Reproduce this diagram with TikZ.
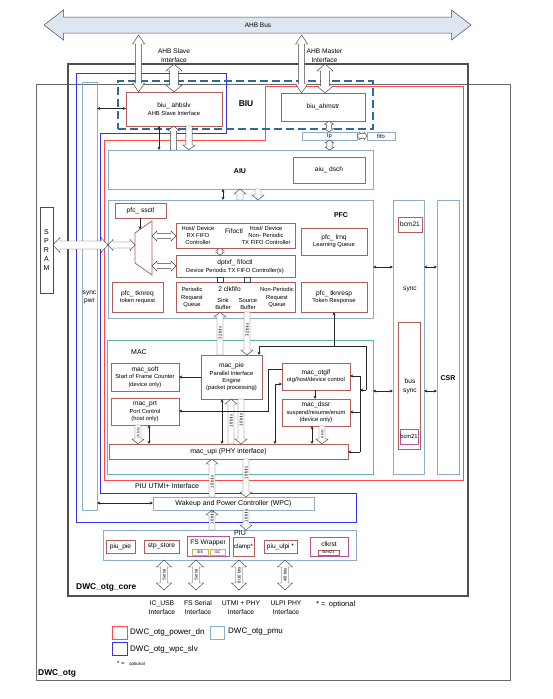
\documentclass[tikz,border=0pt]{standalone}
\usepackage{fontspec}
\setmainfont{Liberation Sans}
\usetikzlibrary{calc,arrows.meta}
\definecolor{modred}{HTML}{B35C5C}
\definecolor{pwrred}{HTML}{FF4A4A}
\definecolor{pmublue}{HTML}{8DADC9}
\definecolor{wpcblue}{HTML}{3333EE}
\definecolor{macteal}{HTML}{5DB5B0}
\definecolor{biudash}{HTML}{2F6B98}
\definecolor{purp}{HTML}{B0559E}
\definecolor{olivec}{HTML}{C2B83A}
\definecolor{busfill}{HTML}{DDE7F1}
\definecolor{coregray}{HTML}{505050}
\definecolor{otggray}{HTML}{6A6A6A}
\newcommand\fA{\fontsize{5.8}{7.4}\selectfont}
\newcommand\fB{\fontsize{6.6}{8}\selectfont}
\newcommand\fC{\fontsize{7}{8.6}\selectfont}
\newcommand\fD{\fontsize{8.4}{10}\selectfont}
\newcommand\fR{\fontsize{4.3}{5}\selectfont}
\newcommand\Bx[7]{\node[#2, anchor=north west, minimum width={#5-#3}, minimum height={#6-#4}] (#1) at (#3,#4) {#7};}
\newcommand\SArr[5]{%
  \coordinate (sa1) at (#1); \coordinate (sa2) at (#2);
  \coordinate (sab) at ($(sa2)!#5pt!(sa1)$);
  \draw[harr] ($(sa1)!#3pt!90:(sa2)$) -- ($(sab)!#3pt!90:(sa2)$) -- ($(sab)!#4pt!90:(sa2)$) -- (sa2) -- ($(sab)!#4pt!-90:(sa2)$) -- ($(sab)!#3pt!-90:(sa2)$) -- ($(sa1)!#3pt!-90:(sa2)$) -- cycle;}
\newcommand\DArr[6][harr]{%
  \coordinate (da1) at (#2); \coordinate (da2) at (#3);
  \coordinate (dab1) at ($(da1)!#6pt!(da2)$); \coordinate (dab2) at ($(da2)!#6pt!(da1)$);
  \draw[#1] (da1) -- ($(dab1)!#5pt!90:(da2)$) -- ($(dab1)!#4pt!90:(da2)$) -- ($(dab2)!#4pt!-90:(da1)$) -- ($(dab2)!#5pt!-90:(da1)$) -- (da2) -- ($(dab2)!#5pt!90:(da1)$) -- ($(dab2)!#4pt!90:(da1)$) -- ($(dab1)!#4pt!-90:(da2)$) -- ($(dab1)!#5pt!-90:(da2)$) -- cycle;}
\begin{document}
\begin{tikzpicture}[x=1pt,y=-1pt,
  bx/.style={inner sep=0pt, outer sep=0pt, align=center, font=\fA},
  modbox/.style={bx, draw=modred, line width=0.75pt, fill=white},
  pmubox/.style={bx, draw=pmublue, line width=0.85pt},
  purpbox/.style={bx, draw=purp, line width=0.75pt, fill=white},
  olbox/.style={bx, draw=olivec, line width=0.6pt, fill=white, font=\fontsize{3.8}{4}\selectfont},
  harr/.style={draw=black!75, fill=white, line width=0.45pt},
  busarr/.style={draw=black!70, fill=busfill, line width=0.5pt},
  tln/.style={line width=0.55pt, draw=black!85},
  tarr/.style={tln, -{Stealth[length=3.2pt,width=3pt]}},
  tdbl/.style={tln, {Stealth[length=3.2pt,width=3pt]}-{Stealth[length=3.2pt,width=3pt]}},
  lbl/.style={inner sep=0pt, align=center},
  rot/.style={inner sep=0pt, font=\fR, rotate=90},
]
\fill[white] (0,0) rectangle (553,699);
\useasboundingbox (0,0) rectangle (553,699);

% region frames
\Bx{otg}{bx, draw=otggray, line width=0.8pt}{36}{84}{510}{680}{}
\Bx{core}{bx, draw=coregray, line width=1.1pt}{68}{64}{468}{596}{}
\draw[wpcblue, line width=0.9pt] (76,73) -- (226,73) -- (226,133) -- (100,133) -- (100,493) -- (356,493) -- (356,522) -- (76,522) -- cycle;
\draw[pwrred, line width=0.8pt] (104,140) -- (265,140) -- (265,86) -- (463,86) -- (463,480) -- (104,480) -- cycle;
\Bx{biu}{bx, draw=biudash, line width=1.2pt, dash pattern=on 8pt off 4pt}{118}{81}{373}{129}{}

% containers
\Bx{spwr}{pmubox}{82}{82}{97}{510}{}
\Bx{aiu}{pmubox}{108}{150}{373}{189}{}
\Bx{pfc}{pmubox}{108}{200}{373}{318}{}
\Bx{mac}{bx, draw=macteal, line width=0.9pt}{107}{340}{373}{474}{}
\Bx{sync}{pmubox}{393}{200}{424}{474}{}
\Bx{csr}{pmubox}{437}{200}{459}{474}{}
\Bx{wpc}{pmubox, fill=white, font=\fC}{153}{497}{314}{510}{Wakeup and Power Controller (WPC)}
\Bx{piu}{pmubox}{103}{530}{356}{560}{}
\Bx{lp}{pmubox, fill=white}{302}{132}{357}{140}{lp}
\Bx{fifo}{pmubox, fill=white}{367}{132}{395}{140}{fifo}
\Bx{spram}{bx, draw=black!70, line width=0.7pt, font=\fontsize{7}{9}\selectfont}{40}{207}{53}{293}{S\\P\\R\\A\\M}

% modules
\Bx{ahbslv}{modbox}{126}{92}{222}{126}{{\fB biu\_ ahbslv}\\AHB Slave Interface}
\Bx{ahmstr}{modbox, font=\fB}{281}{93}{365}{121}{biu\_ahmstr}
\Bx{dsch}{modbox, font=\fB}{293}{157}{365}{183}{aiu\_ dsch}
\Bx{ssctl}{modbox, font=\fB}{115}{203}{166}{218}{pfc\_ ssctl}
\Bx{fifoctl}{modbox}{176}{223}{295}{248}{}
\Bx{dptxf}{modbox}{176}{255}{295}{277}{}
\Bx{clkfifo}{modbox}{176}{282}{295}{312}{}
\Bx{tknreq}{modbox}{112}{282}{163}{312}{{\fB pfc\_ tknreq}\\token request}
\Bx{lrnq}{modbox}{301}{228}{367}{255}{{\fB pfc\_ lrnq}\\Learning Queue}
\Bx{tknresp}{modbox}{301}{282}{367}{312}{{\fB pfc\_ tknresp}\\Token Response}
\Bx{bcmA}{modbox, font=\fB}{398}{217}{422}{232}{bcm21}
\Bx{bussync}{modbox}{398}{322}{420}{449}{}
\Bx{bcmB}{purpbox}{400}{429}{418}{444}{bcm21}
\Bx{soft}{modbox}{111}{363}{179}{391}{{\fB mac\_soft}\\Start of Frame Counter\\(device only)}
\Bx{prt}{modbox}{111}{398}{179}{425}{{\fB mac\_prt}\\Port Control\\(host only)}
\Bx{pie}{modbox}{201}{355}{262}{399}{{\fB mac\_pie}\\Parallel Interface\\Engine\\(packet processing)}
\Bx{otgif}{modbox}{282}{363}{350}{390}{{\fB mac\_otgif}\\otg/host/device control}
\Bx{dssr}{modbox}{282}{399}{350}{426}{{\fB mac\_dssr}\\suspend/resume/enum\\(device only)}
\Bx{upi}{modbox, font=\fC}{109}{444}{348}{459}{mac\_upi (PHY interface)}
\Bx{piupie}{modbox, font=\fB}{106}{540}{135}{553}{piu\_pie}
\Bx{stp}{modbox, font=\fB}{144}{540}{179}{553}{stp\_store}
\Bx{fsw}{purpbox}{187}{536}{229}{556}{}
\node[lbl, font=\fB] (fswl) at (208,543) {FS Wrapper};
\Bx{sie}{olbox}{192}{549}{208}{555}{SIE}
\Bx{i2c}{olbox}{210}{549}{225}{555}{I2C}
\Bx{clamp}{modbox, font=\fontsize{6.2}{7}\selectfont}{233}{537}{254}{556}{clamp*}
\Bx{ulpi}{modbox, font=\fB}{264}{540}{297}{553}{piu\_ulpi *}
\Bx{clkrst}{purpbox}{310}{537}{348}{556}{}
\node[lbl, font=\fB] (clkrstl) at (329,544.5) {clkrst};
\Bx{bcmC}{modbox, font=\fontsize{4}{4.5}\selectfont}{318}{550}{339}{555}{bcm21}

% mux
\draw[modred, line width=0.75pt] (135,233) -- (152,221) -- (152,275) -- (135,263) -- cycle;
\coordinate (muxtop) at (140,229.5);

% labels
\node[lbl, font=\fontsize{6.6}{9}\selectfont] (slvl) at (174,55.5) {AHB Slave\\Interface};
\node[lbl, font=\fontsize{6.6}{9}\selectfont] (mstl) at (324.5,55.5) {AHB Master\\Interface};
\node[lbl, font=\bfseries\fD] at (246,104) {BIU};
\node[lbl, font=\bfseries\fC] at (240,171) {AIU};
\node[lbl, font=\bfseries\fC] at (341,215) {PFC};
\node[lbl, font=\fA] at (198,235.5) {Host/ Device\\RX FIFO\\Controller};
\node[lbl, font=\fB] at (234,231) {Fifoctl};
\node[lbl, font=\fA] at (266,235.5) {Host/ Device\\Non- Periodic\\TX FIFO Controller};
\node[lbl, font=\fB] at (235,262.5) {dptxf\_ fifoctl};
\node[lbl, font=\fA] at (235,270.5) {Device Periodic TX FIFO Controller(s)};
\node[lbl, font=\fB] at (229.5,289) {2 clkfifo};
\node[lbl, font=\fA] at (192,297.5) {Periodic\\Request\\Queue};
\node[lbl, font=\fA] at (223,304) {Sink\\Buffer};
\node[lbl, font=\fA] at (248,304) {Source\\Buffer};
\node[lbl, font=\fA] at (277,297.5) {Non-Periodic\\Request\\Queue};
\node[lbl, font=\fB] at (410,289) {sync};
\node[lbl, font=\fontsize{6.6}{9}\selectfont] at (410,386.5) {bus\\sync};
\node[lbl, font=\fontsize{6.6}{8}\selectfont] at (89.5,297) {sync\\pwr};
\node[lbl, font=\bfseries\fC] at (448,378) {CSR};
\node[lbl, font=\fC] at (139,352) {MAC};
\node[lbl, font=\fC] at (167,486) {PIU UTMI+ Interface};
\node[lbl, font=\fC] at (240,533.5) {PIU};
\node[lbl, font=\bfseries\fD, anchor=west] at (76,587) {DWC\_otg\_core};
\node[lbl, font=\fontsize{6.8}{9}\selectfont] at (162,607.5) {IC\_USB\\Interface};
\node[lbl, font=\fontsize{6.8}{9}\selectfont] at (198,607.5) {FS Serial\\Interface};
\node[lbl, font=\fontsize{6.8}{9}\selectfont] at (241,607.5) {UTMI + PHY\\Interface};
\node[lbl, font=\fontsize{6.8}{9}\selectfont] at (286,607.5) {ULPI PHY\\Interface};
\node[lbl, font=\fontsize{7.5}{8}\selectfont, anchor=west] at (316,605) {* =\, optional};

% legend
\Bx{lgA}{bx, draw=pwrred, line width=0.9pt}{112}{626}{127}{639}{}
\node[lbl, anchor=west, font=\fontsize{8}{9}\selectfont] at (130,632.5) {DWC\_otg\_power\_dn};
\Bx{lgB}{bx, draw=pmublue, line width=0.9pt}{210}{626}{224}{639}{}
\node[lbl, anchor=west, font=\fontsize{8}{9}\selectfont] at (228,632) {DWC\_otg\_pmu};
\Bx{lgC}{bx, draw=wpcblue, line width=0.9pt}{112}{642}{127}{655}{}
\node[lbl, anchor=west, font=\fontsize{8}{9}\selectfont] at (130,649) {DWC\_otg\_wpc\_slv};
\node[lbl, anchor=west] at (117,664) {{\fontsize{6}{7}\selectfont * =}\, {\fontsize{4.5}{5}\selectfont optional}};
\node[lbl, anchor=west, font=\bfseries\fD] at (38,673) {DWC\_otg};

% hollow arrows
\DArr[busarr]{44,25}{471,25}{8}{15}{19.5}
\node[lbl, font=\fontsize{6.5}{7}\selectfont] (busl) at (258,25) {AHB Bus};
\DArr{138.6,35}{138.6,0 |- ahbslv.north}{3}{6}{9}
\DArr{301.6,35}{301.6,0 |- ahmstr.north}{3}{6}{9}
\DArr{174,0 |- core.north}{174,0 |- ahbslv.north}{4.4}{8}{7}
\DArr{325,0 |- core.north}{325,0 |- ahmstr.north}{4.4}{8}{7}
\SArr{173.5,0 |- aiu.north}{173.5,0 |- ahbslv.south}{3.2}{6}{5}
\SArr{189,0 |- ahbslv.south}{189,0 |- aiu.north}{3.2}{6}{5}
\DArr{329,0 |- ahmstr.south}{329,0 |- lp.north}{2.6}{4.5}{3.5}
\DArr{329.5,0 |- lp.south}{329.5,0 |- aiu.north}{2.6}{4.5}{3}
\DArr{lp.east}{fifo.west}{2.4}{4}{3}
\SArr{240,0 |- pfc.north}{240,0 |- aiu.south}{3}{6}{5}
\SArr{258,0 |- aiu.south}{258,0 |- pfc.north}{3}{6}{5}
\DArr{spram.east |- 0,245}{pfc.west |- 0,245}{4}{7.5}{7}
\DArr{pfc.west |- 0,245}{135,245}{3}{5.5}{5}
\DArr{152,236}{fifoctl.west |- 0,236}{2.6}{5}{5}
\DArr{152,266}{dptxf.west |- 0,266}{2.6}{5}{5}
\DArr{220,0 |- fifoctl.south}{220,0 |- dptxf.north}{2.5}{4}{2.5}
\draw[harr] (217,0 |- dptxf.south) rectangle (223,0 |- clkfifo.north);
\draw[harr] (244,0 |- dptxf.south) rectangle (250,0 |- clkfifo.north);
\SArr{220,0 |- pie.north}{220,0 |- clkfifo.south}{3}{6}{5}
\SArr{247,0 |- clkfifo.south}{247,0 |- pie.north}{3}{6}{5}
\SArr{231,0 |- upi.north}{231,0 |- pie.south}{3}{6}{5}
\SArr{241,0 |- pie.south}{241,0 |- upi.north}{3}{6}{5}
\SArr{138,0 |- prt.south}{138,0 |- upi.north}{3}{6}{5}
\SArr{322,0 |- dssr.south}{322,0 |- upi.north}{3}{6}{5}
\SArr{212,0 |- wpc.north}{212,0 |- upi.south}{3}{6}{5}
\SArr{246,0 |- upi.south}{246,0 |- wpc.north}{3}{6}{5}
\SArr{212,0 |- piu.north}{212,0 |- wpc.south}{3}{6}{5}
\SArr{246,0 |- wpc.south}{246,0 |- piu.north}{3}{6}{5}
\coordinate (ifA) at (164,590);
\coordinate (ifB) at (196,590);
\coordinate (ifC) at (239,590);
\coordinate (ifD) at (285,590);
\DArr{164,0 |- piu.south}{ifA}{3.5}{7.5}{7}
\DArr{196,0 |- piu.south}{ifB}{3.5}{7.5}{7}
\DArr{239,0 |- piu.south}{ifC}{3.5}{7.5}{7}
\DArr{285,0 |- piu.south}{ifD}{3.5}{7.5}{7}

% bit labels
\node[rot] at (220,333) {32 bits};
\node[rot] at (247,330) {32 bits};
\node[rot] at (231,421) {16 bits};
\node[rot] at (241,420) {16 bits};
\node[rot, font=\fontsize{3.5}{4}\selectfont] at (138,433) {16 bits};
\node[rot, font=\fontsize{3.5}{4}\selectfont] at (322,434) {8 bits};
\node[rot] at (212,482) {16 bits};
\node[rot] at (246,473) {16 bits};
\node[rot] at (212,518) {16 bits};
\node[rot] at (246,516) {16 bits};
\node[rot] at (164,575) {Serial};
\node[rot] at (196,575) {Serial};
\node[rot] at (239,575) {8/16 bits};
\node[rot] at (285,575) {4/8 bits};

% thin connectors
\draw[tdbl] (spwr.east |- 0,108.5) -- (ahbslv.west |- 0,108.5);
\draw[tdbl] (159,0 |- ahbslv.south) -- (159,0 |- aiu.north);
\draw[tdbl] (223,0 |- aiu.south) -- (223,0 |- pfc.north);
\draw[tarr] (140,0 |- ssctl.south) -- (muxtop);
\draw[tdbl] (pfc.east |- 0,267) -- (sync.west |- 0,267);
\draw[tdbl] (sync.east |- 0,267) -- (csr.west |- 0,267);
\draw[tdbl] (mac.east |- 0,391) -- (sync.west |- 0,391);
\draw[tdbl] (sync.east |- 0,391) -- (csr.west |- 0,391);
\coordinate (j1) at (334,346);
\coordinate (j2) at (259,346);
\coordinate (j3) at (366,346);
\coordinate (j4) at (366,390);
\coordinate (j5) at (360,390);
\draw[tarr] (j1) -- (334,0 |- tknresp.south);
\draw[tln] (j2) -- (j3) -- (j4);
\draw[tarr] (j2) -- (259,0 |- pie.north);
\draw[tarr] (j4) -- (j5);
\draw[tln] (360,376) -- (360,452);
\draw[tarr] (360,376) -- (otgif.east |- 0,376);
\draw[tarr] (360,412) -- (dssr.east |- 0,412);
\draw[tarr] (360,452) -- (upi.east |- 0,452);
\draw[tarr] (pie.west |- 0,377) -- (soft.east |- 0,377);
\draw[tarr] (otgif.west |- 0,369) -- (268,369) -- (268,411) -- (prt.east |- 0,411);
\draw[tdbl] (275,0 |- upi.north) -- (275,384) -- (otgif.west |- 0,384);
\draw[tarr] (315,0 |- otgif.south) -- (315,0 |- dssr.north);
\draw[tdbl] (312,0 |- dssr.south) -- (312,0 |- upi.north);
\draw[tdbl] (222,0 |- pie.south) -- (222,0 |- upi.north);
\draw[tdbl] (149,0 |- prt.south) -- (149,0 |- upi.north);
\draw[tdbl] (spwr.east |- 0,503) -- (wpc.west |- 0,503);
\end{tikzpicture}
\end{document}
